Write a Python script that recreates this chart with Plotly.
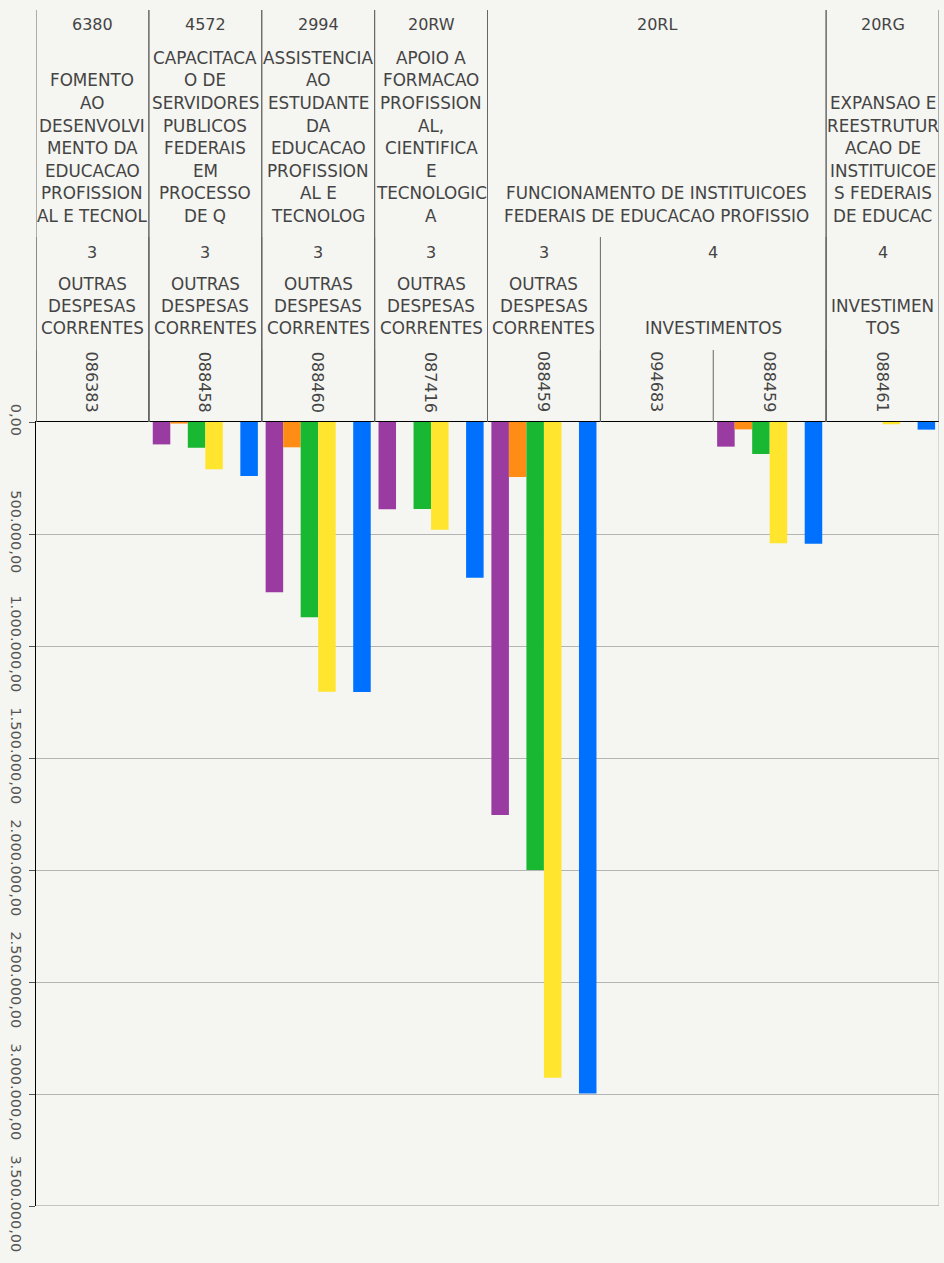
import plotly.graph_objects as go

# ---------------- data ----------------
ptres = ['086383', '088458', '088460', '087416', '088459', '094683', '088459', '088461']
acao_code = ['6380', '4572', '2994', '20RW', '20RL', '20RL', '20RL', '20RG']
acao_name = [
    'FOMENTO\nAO\nDESENVOLVI\nMENTO DA\nEDUCACAO\nPROFISSION\nAL E TECNOL',
    'CAPACITACA\nO DE\nSERVIDORES\nPUBLICOS\nFEDERAIS\nEM\nPROCESSO\nDE Q',
    'ASSISTENCIA\nAO\nESTUDANTE\nDA\nEDUCACAO\nPROFISSION\nAL E\nTECNOLOG',
    'APOIO A\nFORMACAO\nPROFISSION\nAL,\nCIENTIFICA\nE\nTECNOLOGIC\nA',
    'FUNCIONAMENTO DE INSTITUICOES\nFEDERAIS DE EDUCACAO PROFISSIO',
    'FUNCIONAMENTO DE INSTITUICOES\nFEDERAIS DE EDUCACAO PROFISSIO',
    'FUNCIONAMENTO DE INSTITUICOES\nFEDERAIS DE EDUCACAO PROFISSIO',
    'EXPANSAO E\nREESTRUTUR\nACAO DE\nINSTITUICOE\nS FEDERAIS\nDE EDUCAC',
]
gnd_code = ['3', '3', '3', '3', '3', '4', '4', '4']
gnd_name = [
    'OUTRAS\nDESPESAS\nCORRENTES', 'OUTRAS\nDESPESAS\nCORRENTES', 'OUTRAS\nDESPESAS\nCORRENTES',
    'OUTRAS\nDESPESAS\nCORRENTES', 'OUTRAS\nDESPESAS\nCORRENTES',
    'INVESTIMENTOS', 'INVESTIMENTOS', 'INVESTIMEN\nTOS',
]
# grouping keys (20RG investimentos separate from the 20RL investimentos)
gnd_group = ['a', 'b', 'c', 'd', 'e', 'f', 'f', 'g']

s_purple = [0, 100000, 760000, 390000, 1755000, 0, 110000, 0]
s_orange = [0, 7000, 113000, 0, 245000, 0, 33000, 0]
s_green = [0, 115000, 872000, 388000, 2000000, 0, 143000, 0]
s_yellow = [0, 211000, 1204000, 481000, 2927000, 0, 541000, 10000]
s_empty = [None] * 8
s_blue = [0, 241000, 1205000, 695000, 2998000, 0, 543000, 34000]

y_ticks = [0, 500000, 1000000, 1500000, 2000000, 2500000, 3000000, 3500000]
y_ticktext = ['0,00', '500.000,00', '1.000.000,00', '1.500.000,00', '2.000.000,00',
              '2.500.000,00', '3.000.000,00', '3.500.000,00']

# ---------------- layout constants ----------------
W, H = 944, 1263
PL, PR, PT, PB = 36, 939, 422, 1206
BG = '#f5f5f1'
TXT = '#444444'
FONT = 'DejaVu Sans'


def py(pix):
    return (PB - pix) / (PB - PT)


x = list(range(len(ptres)))
series = [
    (s_purple, '#993ba1'),
    (s_orange, '#ff8c14'),
    (s_green, '#19b832'),
    (s_yellow, '#ffe52e'),
    (s_empty, '#cccccc'),
    (s_blue, '#0070ff'),
]

fig = go.Figure()
for vals, col in series:
    fig.add_trace(go.Bar(x=x, y=vals, marker=dict(color=col, line=dict(width=0)),
                         showlegend=False, hoverinfo='skip'))


def groups(keys):
    out = []
    start = 0
    for i in range(1, len(keys) + 1):
        if i == len(keys) or keys[i] != keys[start]:
            out.append((start, i - 1))
            start = i
    return out


shapes = []
annotations = []


def vline(xpos, y0pix, y1pix, color='#666666'):
    shapes.append(dict(type='line', xref='x', yref='paper', x0=xpos, x1=xpos,
                       y0=py(y0pix), y1=py(y1pix), line=dict(color=color, width=1)))


def text(xpos, ypix, t, size=16, angle=0):
    annotations.append(dict(x=xpos, y=py(ypix), xref='x', yref='paper', text=t,
                            showarrow=False, xanchor='center', yanchor='middle',
                            textangle=angle, font=dict(family=FONT, size=size, color=TXT)))


# level 1 (acao)
for a, b in groups(acao_code):
    xc = (a + b) / 2
    text(xc, 25, acao_code[a], 16)
    lines = acao_name[a].split('\n')
    n = len(lines)
    for i, ln in enumerate(lines):
        text(xc, 216 - (n - 1 - i) * 22.6, ln, 16.8)
    vline(a - 0.5, 10, PT)
    vline(b + 0.5, 10, PT)

# level 2 (gnd)
for a, b in groups(gnd_group):
    xc = (a + b) / 2
    text(xc, 252, gnd_code[a], 16)
    lines = gnd_name[a].split('\n')
    n = len(lines)
    for i, ln in enumerate(lines):
        text(xc, 328 - (n - 1 - i) * 22, ln, 16.8)
    vline(a - 0.5, 237, PT)

# level 3 (ptres)
for i, p in enumerate(ptres):
    text(i, 382, p, 16, 90)
    vline(i - 0.5, 350, PT)

# right border of plot area
vline(7.5, PT, PB, '#bbbbbb')
# bottom gridline (at the end of the value range)
shapes.append(dict(type='line', xref='paper', yref='y', x0=0, x1=1,
                   y0=y_ticks[-1], y1=y_ticks[-1], line=dict(color='#b4b4b4', width=1.5)))

fig.update_layout(
    width=W, height=H,
    margin=dict(l=PL, r=W - PR, t=PT, b=H - PB, pad=0),
    paper_bgcolor=BG, plot_bgcolor=BG,
    barmode='group', bargap=0.069, bargroupgap=0,
    shapes=shapes, annotations=annotations,
    font=dict(family=FONT, color=TXT),
    hovermode=False,
    xaxis=dict(range=[-0.5, 7.5], showticklabels=False, showgrid=False, zeroline=False,
               showline=True, linecolor='#000000', linewidth=1.5, side='top', ticks=''),
    yaxis=dict(range=[3500000, 0], tickvals=y_ticks, ticktext=y_ticktext, tickangle=90,
               tickfont=dict(family=FONT, size=14.5, color='#555555'),
               showgrid=True, gridcolor='#b4b4b4', gridwidth=1, zeroline=False,
               showline=True, linecolor='#000000', linewidth=1.5,
               ticks='outside', ticklen=6, tickcolor='#555555'),
)

fig.write_html('out.html', config={'displayModeBar': False, 'staticPlot': True})

# remove the browser's default page margin so the figure sits at (0, 0)
with open('out.html', 'r', encoding='utf-8') as f:
    html = f.read()
html = html.replace('<head>', '<head><style>html,body{margin:0;padding:0;background:%s;}</style>' % BG, 1)
with open('out.html', 'w', encoding='utf-8') as f:
    f.write(html)
